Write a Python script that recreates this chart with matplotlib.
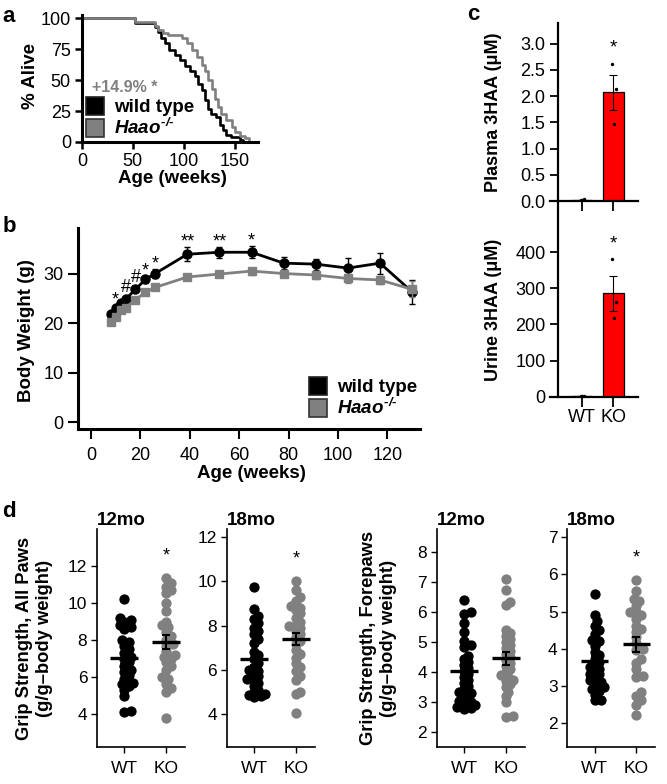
import numpy as np
import matplotlib
matplotlib.use("Agg")
import matplotlib.pyplot as plt
from matplotlib.lines import Line2D

plt.rcParams["font.family"] = ["Liberation Sans", "DejaVu Sans"]
plt.rcParams["mathtext.fontset"] = "custom"
plt.rcParams["mathtext.it"] = "Liberation Sans:bold:italic"
plt.rcParams["mathtext.rm"] = "Liberation Sans:bold:italic"
plt.rcParams["mathtext.bf"] = "Liberation Sans:bold"

GRAY = "#808080"

# ---- a: survival ----
wt_weeks = [0, 52, 72, 75, 78, 82, 86, 91, 96, 101, 106, 111, 114, 118, 121, 124, 127, 132, 136, 139, 142, 146, 155, 158]
wt_alive = [100, 95.7, 93, 89, 84, 80, 74, 70, 66, 61, 57, 53, 47, 42, 34, 27, 23, 20, 14, 10, 6, 4, 2, 0]
ko_weeks = [0, 52, 72, 75, 80, 85, 98, 103, 108, 113, 118, 121, 124, 128, 131, 134, 137, 142, 147, 150, 155, 160, 164]
ko_alive = [100, 97, 94, 90, 88, 86, 84, 80, 74, 69, 62, 57, 50, 43, 35, 28, 23, 18, 12, 8, 5, 3, 0]

# ---- b: body weight ----
bw_weeks = [8, 10, 12, 14, 18, 22, 26, 39, 52, 65, 78, 91, 104, 117, 130]
bw_wt = [21.8, 23.1, 24.1, 24.8, 26.8, 28.8, 30.0, 33.9, 34.3, 34.3, 32.1, 31.9, 31.1, 32.1, 26.3]
bw_wt_err = [0.5, 0.5, 0.5, 0.6, 0.6, 0.8, 1.0, 1.4, 1.1, 1.2, 1.2, 1.1, 2.0, 2.1, 2.4]
bw_ko = [20.2, 21.3, 22.6, 23.1, 24.7, 26.2, 27.2, 29.3, 29.9, 30.5, 30.0, 29.7, 29.0, 28.7, 26.8]
bw_ko_err = [0.5, 0.5, 0.5, 0.5, 0.6, 0.6, 0.6, 0.7, 0.7, 0.7, 0.8, 0.8, 0.9, 0.9, 1.6]
bw_sig = {10: "*", 14: "#", 18: "#", 22: "*", 26: "*", 39: "**", 52: "**", 65: "*"}

# ---- c: 3HAA ----
groups = ["WT", "KO"]
plasma_wt = [0.02, 0.03, 0.02]
plasma_ko = [2.62, 2.13, 1.47]
urine_wt = [2, 1, 3]
urine_ko = [380, 263, 217]

# ---- d: grip strength ----
all12_wt = [10.2, 9.2, 9.1, 9.0, 8.8, 8.7, 8.6, 8.0, 7.9, 7.7, 7.5, 7.3, 7.1, 7.0, 6.8, 6.6,
            6.4, 6.3, 6.1, 5.9, 5.7, 5.6, 5.5, 5.3, 5.0, 4.15, 4.1]
all12_ko = [11.35, 11.1, 10.9, 10.7, 10.55, 10.0, 9.6, 9.0, 8.8, 8.7, 8.45, 8.2, 8.0, 7.8,
            7.7, 7.4, 7.2, 7.1, 7.0, 6.8, 6.6, 6.4, 6.0, 5.9, 5.65, 5.4, 5.2, 3.8]
all18_wt = [9.75, 8.75, 8.45, 8.3, 8.1, 7.9, 7.75, 7.6, 7.4, 7.2, 6.8, 6.65, 6.5, 6.3, 6.1,
            6.0, 5.95, 5.8, 5.7, 5.6, 5.55, 5.4, 5.25, 5.1, 5.0, 4.9, 4.85, 4.8, 4.75]
all18_ko = [10.0, 9.6, 9.3, 9.1, 8.9, 8.8, 8.7, 8.55, 8.35, 8.15, 8.0, 8.0, 7.9, 7.75, 7.6,
            7.5, 7.3, 7.15, 6.9, 6.7, 6.55, 6.3, 6.15, 5.95, 5.7, 5.55, 5.0, 4.9, 4.05]
fore12_wt = [6.4, 6.0, 5.95, 5.65, 5.35, 5.05, 4.9, 4.85, 4.55, 4.45, 4.35, 4.25, 4.15, 4.05,
             3.95, 3.85, 3.75, 3.65, 3.55, 3.45, 3.35, 3.3, 3.25, 3.1, 3.05, 3.0, 2.95, 2.9,
             2.85, 2.8, 2.78]
fore12_ko = [7.1, 6.75, 6.35, 6.25, 5.4, 5.3, 5.2, 5.1, 5.0, 4.9, 4.8, 4.7, 4.6, 4.5, 4.4,
             4.3, 4.2, 4.1, 4.0, 3.9, 3.85, 3.75, 3.7, 3.6, 3.5, 3.35, 3.2, 3.0, 2.55, 2.5]
fore18_wt = [5.48, 4.9, 4.75, 4.62, 4.5, 4.4, 4.22, 4.2, 4.08, 3.9, 3.82, 3.72, 3.65, 3.58,
             3.5, 3.45, 3.38, 3.3, 3.3, 3.22, 3.15, 3.1, 3.05, 2.95, 2.9, 2.85, 2.75, 2.62, 2.6]
fore18_ko = [5.86, 5.55, 5.35, 5.28, 5.15, 5.0, 4.98, 4.9, 4.8, 4.62, 4.52, 4.45, 4.3, 4.15,
             4.0, 3.95, 3.72, 3.62, 3.45, 3.25, 3.22, 2.82, 2.72, 2.6, 2.48, 2.2]

W, H = 667, 784
fig = plt.figure(figsize=(W / 100, H / 100), dpi=100)


def px_axes(x0, y0, x1, y1):
    return fig.add_axes([x0 / W, 1 - y1 / H, (x1 - x0) / W, (y1 - y0) / H])


def clean(ax, lw):
    ax.spines["top"].set_visible(False)
    ax.spines["right"].set_visible(False)
    for s in ("left", "bottom"):
        ax.spines[s].set_linewidth(lw)


def star(ax, x, y, mark, fs, dy_px):
    # put the visual centre of the mark dy_px above (x, y)
    rise = 0.58 if "*" in mark else 0.36
    off = (dy_px - rise * fs / 0.72) * 0.72
    ax.annotate(mark, (x, y), xytext=(0, off), textcoords="offset points",
                ha="center", va="baseline", fontsize=fs)


def swarm(values, y_px, x_px, d_px):
    vals = np.asarray(values, float)
    xs = np.zeros(len(vals))
    placed = []
    for i in np.argsort(vals):
        y = vals[i] * y_px
        k = 0
        done = False
        while not done:
            cands = [0.0] if k == 0 else [k * d_px * 0.45, -k * d_px * 0.45]
            for c in cands:
                if all((c - px) ** 2 + (y - py) ** 2 >= d_px ** 2 for px, py in placed):
                    xs[i] = c
                    placed.append((c, y))
                    done = True
                    break
            k += 1
    return xs / x_px


legend_handles = [
    Line2D([], [], ls="none", marker="s", ms=12.5, mfc="black", mec="#222222", mew=1.2),
    Line2D([], [], ls="none", marker="s", ms=12.5, mfc=GRAY, mec="#333333", mew=1.2),
]
legend_labels = ["wild type", r"$Haao^{\text{-/-}}$"]

# ---------------- panel a ----------------
ax = px_axes(82, 15, 258, 142)
ax.step(wt_weeks, wt_alive, where="post", color="black", lw=1.9)
ax.step(ko_weeks, ko_alive, where="post", color=GRAY, lw=1.9)
ax.set_xlim(0, 173)
ax.set_ylim(0, 102.5)
clean(ax, 2.2)
ax.set_xticks([0, 50, 100, 150])
ax.set_yticks([0, 25, 50, 75, 100])
ax.tick_params(length=5, width=1.8, labelsize=13, pad=3)
ax.set_ylabel("% Alive", fontsize=13.5, fontweight="bold")
ax.yaxis.set_label_coords(-0.245, 0.52)
ax.set_xlabel("Age (weeks)", fontsize=13.5, fontweight="bold", va="top")
ax.xaxis.set_label_coords(0.514, -0.217)
fig.text(92 / W, 1 - 92 / H, "+14.9% *", color=GRAY, fontsize=11.5, fontweight="bold", va="baseline")
ax.legend(legend_handles, legend_labels, loc="upper left", bbox_to_anchor=(86 / W, 1 - 99 / H),
          bbox_transform=fig.transFigure, frameon=False, handlelength=1.0, handletextpad=0.5,
          labelspacing=0.12, borderpad=0, borderaxespad=0,
          prop={"weight": "bold", "size": 13.5})

# ---------------- panel b ----------------
ax = px_axes(78, 228, 420, 429)
ax.errorbar(bw_weeks, bw_wt, yerr=bw_wt_err, color="black", marker="o", ms=6.5, lw=2,
            elinewidth=1, capsize=2.5, capthick=1, zorder=3)
ax.errorbar(bw_weeks, bw_ko, yerr=bw_ko_err, color=GRAY, marker="s", ms=5.5, lw=2,
            elinewidth=1, capsize=2.5, capthick=1, zorder=4)
for wk, mark in bw_sig.items():
    i = bw_weeks.index(wk)
    star(ax, wk, bw_wt[i] + bw_wt_err[i], mark, 13, 11)
ax.set_xlim(-5.26, 133.2)
ax.set_ylim(-1.41, 39.2)
clean(ax, 2.2)
ax.set_xticks(range(0, 121, 20))
ax.set_yticks([0, 10, 20, 30])
ax.tick_params(length=7, width=1.5, labelsize=13, pad=3.5)
ax.tick_params(axis="x", pad=6)
ax.set_ylabel("Body Weight (g)", fontsize=13.5, fontweight="bold")
ax.yaxis.set_label_coords(-0.126, 0.49)
ax.set_xlabel("Age (weeks)", fontsize=13.5, fontweight="bold", va="top")
ax.xaxis.set_label_coords(0.508, -0.177)
ax.legend(legend_handles, legend_labels, loc="upper left", bbox_to_anchor=(309 / W, 1 - 379 / H),
          bbox_transform=fig.transFigure, frameon=False, handlelength=1.0, handletextpad=0.5,
          labelspacing=0.12, borderpad=0, borderaxespad=0,
          prop={"weight": "bold", "size": 13.5})

# ---------------- panel c ----------------
dot_dx = [-0.03, 0.08, 0.02]


def bar_panel(ax, wt, ko, ylim, yticks, ylabel, label_y, show_x):
    means = [np.mean(wt), np.mean(ko)]
    sems = [np.std(wt, ddof=1) / np.sqrt(len(wt)), np.std(ko, ddof=1) / np.sqrt(len(ko))]
    ax.bar([0, 1], means, width=0.67, color="#ff0000", edgecolor="black", lw=0.9, zorder=2)
    ax.errorbar([0, 1], means, yerr=sems, fmt="none", ecolor="black", elinewidth=0.8,
                capsize=3, capthick=0.8, zorder=3)
    for gi, vals in enumerate([wt, ko]):
        ax.scatter([gi + d for d in dot_dx], vals, s=6, color="black", zorder=4, lw=0)
    star(ax, 1, max(ko), "*", 13.5, 22)
    ax.set_xlim(-1.0, 1.79)
    ax.set_ylim(*ylim)
    clean(ax, 1.6)
    ax.spines["left"].set_position(("data", -0.75))
    ax.set_yticks(yticks)
    ax.set_xticks([0, 1])
    ax.set_xticklabels(groups if show_x else ["", ""])
    ax.tick_params(length=6, width=1.3, labelsize=13, pad=3)
    ax.tick_params(axis="x", length=7, pad=2)
    ax.set_ylabel(ylabel, fontsize=13, fontweight="bold")
    ax.yaxis.set_label_coords(-0.545, label_y)
    ax.patch.set_visible(False)


axp = px_axes(550, 22.7, 638, 201)
bar_panel(axp, plasma_wt, plasma_ko, (0, 3.4), [0, 0.5, 1, 1.5, 2, 2.5, 3],
          "Plasma 3HAA (μM)", 0.5, False)
axp.set_yticklabels(["0.0", "0.5", "1.0", "1.5", "2.0", "2.5", "3.0"])
axu = px_axes(550, 201, 638, 396.7)
bar_panel(axu, urine_wt, urine_ko, (0, 542), [0, 100, 200, 300, 400],
          "Urine 3HAA (μM)", 0.443, True)
axp.set_zorder(2)

# ---------------- panel d ----------------
d_specs = [
    (97, all12_wt, all12_ko, (2.23, 14), [4, 6, 8, 10, 12], "12mo", True,
     "Grip Strength, All Paws\n(g/g–body weight)", -0.5),
    (226.7, all18_wt, all18_ko, (2.52, 12.36), [4, 6, 8, 10, 12], "18mo", True, None, 0),
    (436.7, fore12_wt, fore12_ko, (1.52, 8.77), [2, 3, 4, 5, 6, 7, 8], "12mo", False,
     "Grip Strength, Forepaws\n(g/g–body weight)", -0.45),
    (567.3, fore18_wt, fore18_ko, (1.35, 7.22), [2, 3, 4, 5, 6, 7], "18mo", True, None, 0),
]
for x0, wt, ko, ylim, yticks, title, sig, ylabel, lx in d_specs:
    ax = px_axes(x0, 529.3, x0 + 88, 746.7)
    ax.set_xlim(-0.65, 1.45)
    ax.set_ylim(*ylim)
    y_px = 217.4 / (ylim[1] - ylim[0])
    x_px = 88 / 2.1
    for gi, (vals, col) in enumerate([(wt, "black"), (ko, GRAY)]):
        xs = gi + swarm(vals, y_px, x_px, 5.0)
        ax.scatter(xs, vals, s=55, color=col, lw=0, zorder=2)
        m = np.mean(vals)
        se = np.std(vals, ddof=1) / np.sqrt(len(vals))
        ax.plot([gi - 0.33, gi + 0.33], [m, m], color="black", lw=2.4, zorder=3,
                solid_capstyle="butt")
        ax.errorbar([gi], [m], yerr=[se], fmt="none", ecolor="black", elinewidth=1.5,
                    capsize=3, capthick=1.5, zorder=3)
    if sig:
        star(ax, 1, max(ko), "*", 13, 28)
    clean(ax, 1.2)
    ax.set_yticks(yticks)
    ax.set_xticks([0, 1])
    ax.set_xticklabels(groups)
    ax.tick_params(length=4, width=1.0, labelsize=12.5, pad=3)
    ax.tick_params(axis="x", pad=6)
    ax.set_title(title, loc="left", fontsize=13.5, fontweight="bold", pad=3)
    if ylabel:
        ax.set_ylabel(ylabel, fontsize=13.2, fontweight="bold", linespacing=1.2)
        ax.yaxis.set_label_coords(lx, 0.5)

# panel letters
for txt, x, y in [("a", 2, 22), ("b", 3, 232), ("c", 467, 20), ("d", 2, 517)]:
    fig.text(x / W, 1 - y / H, txt, fontsize=16, fontweight="bold", va="baseline")

fig.savefig("out.png", dpi=100)
